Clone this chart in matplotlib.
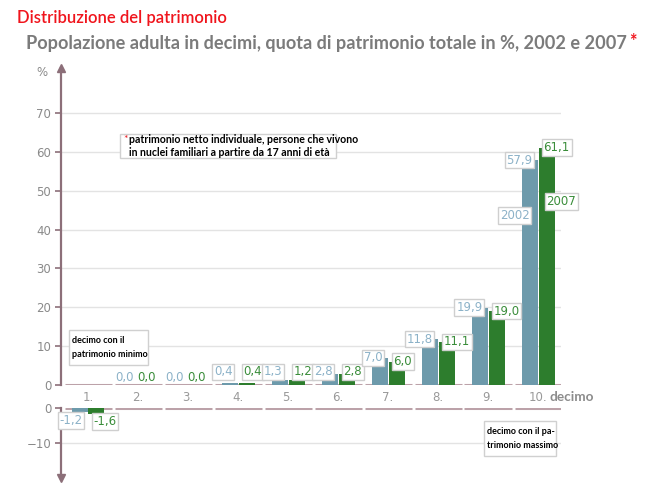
import matplotlib
matplotlib.use("Agg")
import matplotlib.pyplot as plt
from matplotlib.patches import Rectangle
import numpy as np

decimi = ['1.', '2.', '3.', '4.', '5.', '6.', '7.', '8.', '9.', '10.']
v2002 = [-1.2, 0.0, 0.0, 0.4, 1.3, 2.8, 7.0, 11.8, 19.9, 57.9]
v2007 = [-1.6, 0.0, 0.0, 0.4, 1.2, 2.8, 6.0, 11.1, 19.0, 61.1]
labels2002 = ['-1,2', '0,0', '0,0', '0,4', '1,3', '2,8', '7,0', '11,8', '19,9', '57,9']
labels2007 = ['-1,6', '0,0', '0,0', '0,4', '1,2', '2,8', '6,0', '11,1', '19,0', '61,1']
upper_ticks = [0, 10, 20, 30, 40, 50, 60, 70]
lower_ticks = [0, -10]

W, H = 650, 491
C_BLUE = '#6d9aab'
C_GREEN = '#2d7d2d'
T_BLUE = '#8cb2c8'
T_GREEN = '#3a8d3a'
C_AXIS = '#8c6f79'
C_SEG = '#bca2a9'
C_GRID = '#e3e3e3'
C_TICK = '#8a8a8a'

fig = plt.figure(figsize=(W / 100, H / 100), dpi=100)

def fx(x):
    return x / W

def fy(y):
    return 1 - y / H

x = np.arange(1, len(decimi) + 1)
bw = 0.32
off = 0.17
xl = (0.46, 10.46)

ax = fig.add_axes([fx(61), fy(385), (561 - 61) / W, (385 - 68) / H])
axl = fig.add_axes([fx(61), fy(478), (561 - 61) / W, (478 - 408) / H])

for a in (ax, axl):
    a.set_xlim(*xl)
    for s in ('top', 'right', 'bottom'):
        a.spines[s].set_visible(False)
    a.spines['left'].set_color(C_AXIS)
    a.spines['left'].set_linewidth(1.6)
    a.tick_params(axis='y', colors=C_AXIS, length=4, width=1.2, labelcolor=C_TICK,
                  labelsize=8.5, pad=3)
    a.set_facecolor('none')
    for i in x:
        a.hlines(0, i - 0.47, i + 0.47, color=C_SEG, lw=2.2, zorder=2)

ax.set_ylim(0, 81.6)
axl.set_ylim(-20, 0)
ax.set_yticks(upper_ticks)
axl.set_yticks(lower_ticks)
for t in upper_ticks[1:]:
    ax.axhline(t, color=C_GRID, lw=1, zorder=0)
for t in lower_ticks[1:]:
    axl.axhline(t, color=C_GRID, lw=1, zorder=0)

ax.set_xticks(x)
ax.set_xticklabels(decimi)
ax.tick_params(axis='x', length=0, pad=4, labelsize=8.5, labelcolor='#999999')
axl.set_xticks([])

ax.plot(0, 1, marker='^', color=C_AXIS, ms=6, transform=ax.transAxes, clip_on=False)
axl.plot(0, 0, marker='v', color=C_AXIS, ms=6, transform=axl.transAxes, clip_on=False)

pos2002 = [max(v, 0) for v in v2002]
pos2007 = [max(v, 0) for v in v2007]
neg2002 = [min(v, 0) for v in v2002]
neg2007 = [min(v, 0) for v in v2007]

ax.bar(x - off, pos2002, bw, color=C_BLUE, lw=0, zorder=3)
ax.bar(x + off, pos2007, bw, color=C_GREEN, lw=0, zorder=3)
axl.bar(x - off, neg2002, bw, color=C_BLUE, lw=0, zorder=3)
axl.bar(x + off, neg2007, bw, color=C_GREEN, lw=0, zorder=3)

box = dict(boxstyle='square,pad=0.15', fc='white', ec='#cfcfcf', lw=1)

def boxed(a, xx, yy, s, col, ha):
    a.text(xx, yy, s, ha=ha, va='center', color=col, fontsize=8.5, bbox=box, zorder=4)

lo = 0.06
for i, (a, b, la, lb) in enumerate(zip(v2002, v2007, labels2002, labels2007)):
    xi = x[i]
    for v, lab, dx, col, ha, zdx in ((a, la, -off + lo, T_BLUE, 'right', -off - 0.1),
                                     (b, lb, off - lo, T_GREEN, 'left', off)):
        if v < 0:
            boxed(axl, xi + dx, v - 2.3, lab, col, ha)
        elif v == 0:
            ax.text(xi + zdx, 1.9, lab, ha='center', va='center', color=col,
                    fontsize=8.5, zorder=4)
        else:
            boxed(ax, xi + dx, max(v, 3.4), lab, col, ha)

boxed(ax, 10 - off, 43.7, '2002', T_BLUE, 'right')
boxed(ax, 10 + off, 47.3, '2007', T_GREEN, 'left')

fig.text(fx(550), fy(397), 'decimo', ha='left', va='center', color='#8c8c8c',
         fontsize=9.8, fontweight='bold', family='Lato')
fig.text(fx(42), fy(72), '%', ha='center', va='center', color=C_TICK, fontsize=8.5)

# titles
fig.text(fx(17), fy(18), 'Distribuzione del patrimonio', ha='left', va='center',
         color='#f0141c', fontsize=12, fontweight='semibold', family='Lato')
st = fig.text(fx(26), fy(44), 'Popolazione adulta in decimi, quota di patrimonio totale in %, 2002 e 2007',
              ha='left', va='center', color='#7b7b7b', fontsize=13.1, fontweight='bold',
              family='Lato')
fig.canvas.draw()
bb = st.get_window_extent()
fig.text(bb.x1 / W + 0.003, fy(42), '*', ha='left', va='center', color='#f0141c',
         fontsize=13, fontweight='bold', family='Lato')

def note_box(x0, y0, x1, y1):
    fig.patches.append(Rectangle((fx(x0), fy(y1)), (x1 - x0) / W, (y1 - y0) / H,
                                 transform=fig.transFigure, fc='white', ec='#d0d0d0',
                                 lw=1, zorder=6))

note_box(120, 134, 336, 158)
fig.text(fx(123), fy(140), '*', ha='left', va='center', color='#e8161c', fontsize=7.5,
         family='Lato', zorder=7)
fig.text(fx(129), fy(146), 'patrimonio netto individuale, persone che vivono\nin nuclei familiari a partire da 17 anni di età',
         ha='left', va='center', color='black', fontsize=7.6, fontweight='bold',
         family='Lato', linespacing=1.3, zorder=7)

note_box(69, 330, 148, 365)
fig.text(fx(72), fy(347.5), 'decimo con il\npatrimonio minimo', ha='left', va='center',
         color='black', fontsize=6.5, fontweight='bold', family='Lato',
         linespacing=1.6, zorder=7)

note_box(484, 421, 556, 456)
fig.text(fx(487), fy(438.5), 'decimo con il pa-\ntrimonio massimo', ha='left', va='center',
         color='black', fontsize=6.5, fontweight='bold', family='Lato',
         linespacing=1.6, zorder=7)

fig.savefig('out.png', dpi=100)
